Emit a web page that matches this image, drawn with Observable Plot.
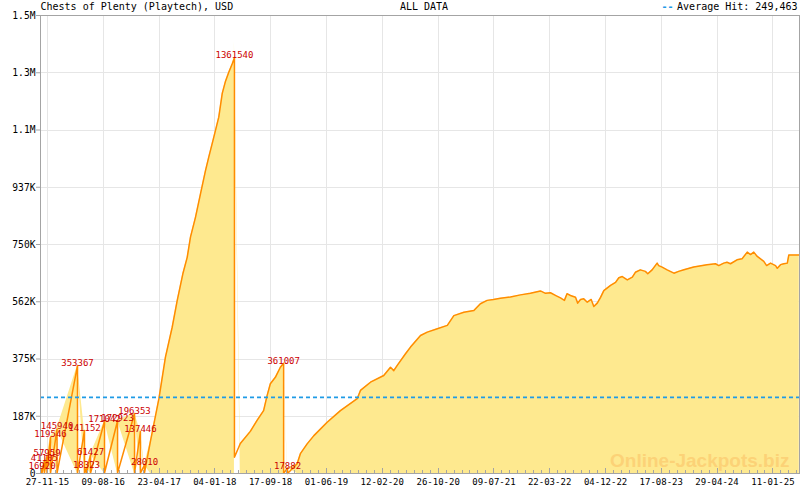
<!DOCTYPE html>
<html><head><meta charset="utf-8">
<script src="https://cdn.jsdelivr.net/npm/d3@7"></script>
<script src="https://cdn.jsdelivr.net/npm/@observablehq/plot@0.6"></script>
<style>
html,body{margin:0;padding:0;background:#fff;}
#chart svg{display:block;}
</style></head><body><div id="chart"></div>
<script>
const title = "Chests of Plenty (Playtech), USD";
const periodLabel = "ALL DATA";
const avgHit = 249463;
const watermark = "Online-Jackpots.biz";

const xTickLabels = ["27-11-15","09-08-16","23-04-17","04-01-18","17-09-18","01-06-19","12-02-20","26-10-20","09-07-21","22-03-22","04-12-22","17-08-23","29-04-24","11-01-25"];
const xDomain = ["2015-10-26", "2025-05-13"];
const yTickValues = [0, 187500, 375000, 562500, 750000, 937500, 1125000, 1312500, 1500000];
const yTickLabels = ["0", "187K", "375K", "562K", "750K", "937K", "1.1M", "1.3M", "1.5M"];

const hitDates = ["2015-11-02","2015-11-13","2015-11-25","2015-12-11","2016-01-10","2016-04-13","2016-05-15","2016-05-24","2016-06-12","2016-08-15","2016-10-14","2016-12-31","2017-01-27","2017-02-15","2018-04-04","2018-11-16","2018-12-04"];
const hitValues = [16920, 41105, 57959, 119546, 145940, 353367, 141152, 18323, 61427, 171042, 172923, 196353, 137446, 28010, 1361540, 361007, 17882];

const seriesDates = [
"2015-10-27","2015-11-02","2015-11-02","2015-11-13","2015-11-13","2015-11-25","2015-11-25","2015-12-11","2015-12-11",
"2016-01-10","2016-01-10","2016-04-13","2016-04-13","2016-05-15","2016-05-15","2016-05-24","2016-05-24","2016-06-12","2016-06-12",
"2016-08-15","2016-08-15","2016-10-14","2016-10-14","2016-12-31","2016-12-31","2017-01-27","2017-01-27","2017-02-15","2017-02-15",
"2017-03-14","2017-04-22","2017-05-22","2017-06-22","2017-07-15","2017-08-10","2017-08-30","2017-09-14","2017-10-07","2017-10-30",
"2017-11-22","2017-12-07","2017-12-30","2018-01-22","2018-02-07","2018-02-22","2018-03-09","2018-03-25","2018-04-04","2018-04-04",
"2018-05-01","2018-06-16","2018-07-17","2018-08-16","2018-09-01","2018-09-16","2018-10-09","2018-11-01","2018-11-16","2018-11-16",
"2018-12-04","2018-12-04","2019-01-17","2019-02-01","2019-03-04","2019-04-04","2019-06-04","2019-08-04","2019-10-20","2019-11-04",
"2019-12-20","2020-02-19","2020-03-21","2020-04-05","2020-04-21","2020-05-29","2020-06-21","2020-08-06","2020-09-06","2020-10-22",
"2020-12-07","2021-01-06","2021-02-21","2021-04-08","2021-05-08","2021-06-08","2021-07-07","2021-08-08","2021-09-23","2021-11-08",
"2021-12-24","2022-02-08","2022-03-03","2022-03-26","2022-04-22","2022-05-11","2022-05-29","2022-06-10","2022-06-26","2022-07-19",
"2022-07-29","2022-08-11","2022-08-26","2022-09-11","2022-09-29","2022-10-11","2022-10-27","2022-11-11","2022-11-26","2022-12-27",
"2023-01-19","2023-02-03","2023-02-19","2023-03-14","2023-04-06","2023-04-20","2023-05-13","2023-06-05","2023-06-16","2023-07-06",
"2023-07-29","2023-08-05","2023-08-21","2023-09-13","2023-10-14","2023-11-05","2023-11-29","2024-01-13","2024-03-14","2024-04-22",
"2024-05-07","2024-05-30","2024-06-14","2024-06-30","2024-07-30","2024-08-22","2024-09-15","2024-09-30","2024-10-15","2024-10-31",
"2024-11-15","2024-11-30","2024-12-13","2024-12-31","2025-01-23","2025-01-31","2025-02-15","2025-03-02","2025-03-18","2025-03-25",
"2025-05-12"];
const seriesValues = [
3000,16920,1500,41105,1500,57959,1500,119546,1500,
145940,1500,353367,1500,141152,1500,18323,1500,61427,1500,
171042,1500,172923,1500,196353,1500,137446,1500,28010,3000,
105000,245000,381000,479000,566000,654000,708000,774000,839000,916000,
992000,1036000,1101000,1167000,1245000,1285000,1314000,1342000,1361540,53000,
98000,138000,174000,206000,255000,294000,315000,348000,361007,1000,
17882,0,32000,65000,97000,124000,168000,206000,245000,272000,
299000,321000,348000,337000,354000,392000,414000,452000,463000,474000,
485000,517000,528000,534000,556000,567000,570000,574000,578000,585000,
590000,598000,590000,592000,582000,575000,567000,589000,583000,577000,
558000,570000,572000,561000,570000,547000,558000,577000,599000,616000,
626000,641000,645000,634000,643000,659000,667000,662000,654000,667000,
689000,681000,676000,667000,656000,662000,667000,676000,684000,687000,
681000,689000,692000,687000,700000,703000,725000,717000,725000,711000,
703000,695000,681000,689000,681000,672000,684000,687000,689000,716000,
716000];

// ---- derived structures ----
const parseTick = d3.utcParse("%d-%m-%y");
const xTicks = xTickLabels.map(parseTick);
const yLabelMap = new Map(yTickValues.map((v, i) => [v, yTickLabels[i]]));
const series = seriesDates.map((d, i) => ({date: new Date(d), value: seriesValues[i]}));
const hits = hitDates.map((d, i) => ({date: new Date(d), value: hitValues[i]}));
const domain = xDomain.map(d => new Date(d));

// minor ticks: 7 subdivisions per labelled interval
const minor = [];
const avgStep = (xTicks[xTicks.length - 1] - xTicks[0]) / (xTicks.length - 1);
for (let t = +xTicks[0] - avgStep; t < +domain[1] + avgStep; t += avgStep) {
  for (let k = 1; k < 7; k++) {
    const m = t + k * avgStep / 7;
    if (m > +domain[0] && m < +domain[1]) minor.push(new Date(m));
  }
}

const W = 800, H = 490, mL = 40, mR = 1, mT = 15, mB = 17;
const frameH = H - mT - mB;
const gridColor = "#e6e6e6";
const axisColor = "#a4a4a4";
const avgColor = "#1f9be6";
const legendText = "Average Hit: " + d3.format(",")(avgHit);

const chart = Plot.plot({
  width: W, height: H,
  marginLeft: mL, marginRight: mR, marginTop: mT, marginBottom: mB,
  style: {fontFamily: "'DejaVu Sans Mono', monospace", fontSize: "10px", background: "#fff", overflow: "visible", color: "#000"},
  x: {type: "utc", domain, axis: null},
  y: {domain: [0, 1500000], axis: null, label: null},
  marks: [
    Plot.gridY(yTickValues, {stroke: gridColor, strokeOpacity: 1, shapeRendering: "crispEdges"}),
    Plot.gridX(xTicks, {stroke: gridColor, strokeOpacity: 1, shapeRendering: "crispEdges"}),
    Plot.areaY(series, {x: "date", y: "value", fill: "#fee98f"}),
    Plot.text([watermark], {frameAnchor: "bottom-right", textAnchor: "end", lineAnchor: "bottom", dx: -10, dy: -7,
      fontFamily: "'Liberation Sans', Arial, sans-serif", fontWeight: "bold", fontSize: 19, fill: "#fcd277", ariaLabel: "watermark"}),
    Plot.lineY(series, {x: "date", y: "value", stroke: "#ff8c00", strokeWidth: 1.5}),
    Plot.ruleY([avgHit], {stroke: avgColor, strokeDasharray: "4,3", strokeWidth: 1.6}),
    Plot.ruleX(minor, {x: d => d, stroke: axisColor, insetTop: frameH - 3, shapeRendering: "crispEdges"}),
    Plot.ruleX(xTicks, {x: d => d, stroke: axisColor, insetTop: frameH - 5, shapeRendering: "crispEdges"}),
    Plot.frame({stroke: axisColor, shapeRendering: "crispEdges"}),
    Plot.axisY(yTickValues, {anchor: "left", label: null, tickSize: 4, tickPadding: 1, tickFormat: d => yLabelMap.get(d),
      stroke: axisColor, fill: "#000", fontSize: 10.5}),
    Plot.text(xTicks, {x: d => d, text: (d, i) => xTickLabels[i], frameAnchor: "bottom", lineAnchor: "bottom", dy: 11,
      fontSize: 9, fill: "#000", ariaLabel: "xlabels"}),
    Plot.text(hits, {x: "date", y: "value", text: d => String(d.value), lineAnchor: "bottom", dy: 0.5,
      fontSize: 9, fill: "#cc0000", ariaLabel: "hits"}),
    Plot.text([title], {frameAnchor: "top-left", textAnchor: "start", lineAnchor: "bottom", dy: -6, fontSize: 10, fill: "#000", ariaLabel: "header"}),
    Plot.text([periodLabel], {frameAnchor: "top", textAnchor: "middle", lineAnchor: "bottom", dx: 4, dy: -6, fontSize: 10, fill: "#000", ariaLabel: "header"}),
    Plot.text([legendText], {frameAnchor: "top-right", textAnchor: "end", lineAnchor: "bottom", dx: -2, dy: -6, fontSize: 10, fill: "#000", ariaLabel: "header"}),
    Plot.text(["--"], {frameAnchor: "top-right", textAnchor: "end", lineAnchor: "bottom", dx: -(2 + legendText.length * 6.1 + 2), dy: -6, fontSize: 10, fontWeight: "bold", fill: avgColor, ariaLabel: "legend-dash"})
  ]
});
document.getElementById("chart").append(chart);

function squash(selector, perChar) {
  chart.querySelectorAll(selector).forEach(t => {
    const n = t.textContent.length;
    if (!n) return;
    t.setAttribute("textLength", (n * perChar).toFixed(1));
    t.setAttribute("lengthAdjust", "spacingAndGlyphs");
  });
}
squash('g[aria-label="header"] text', 6.1);
squash('g[aria-label="legend-dash"] text', 7);
squash('g[aria-label="y-axis tick label"] text', 5.8);
squash('g[aria-label="xlabels"] text', 4.85);
squash('g[aria-label="hits"] text', 4.86);

// keep the hit labels inside the plotting frame
const svgRect = chart.getBoundingClientRect();
chart.querySelectorAll('g[aria-label="hits"] text').forEach(t => {
  const r = t.getBoundingClientRect();
  const left = r.left - svgRect.left;
  if (left < mL + 1) {
    const shift = mL + 1 - left;
    const tr = t.getAttribute("transform") || "";
    t.setAttribute("transform", `translate(${shift},0) ${tr}`);
  }
});
</script>
</body></html>
